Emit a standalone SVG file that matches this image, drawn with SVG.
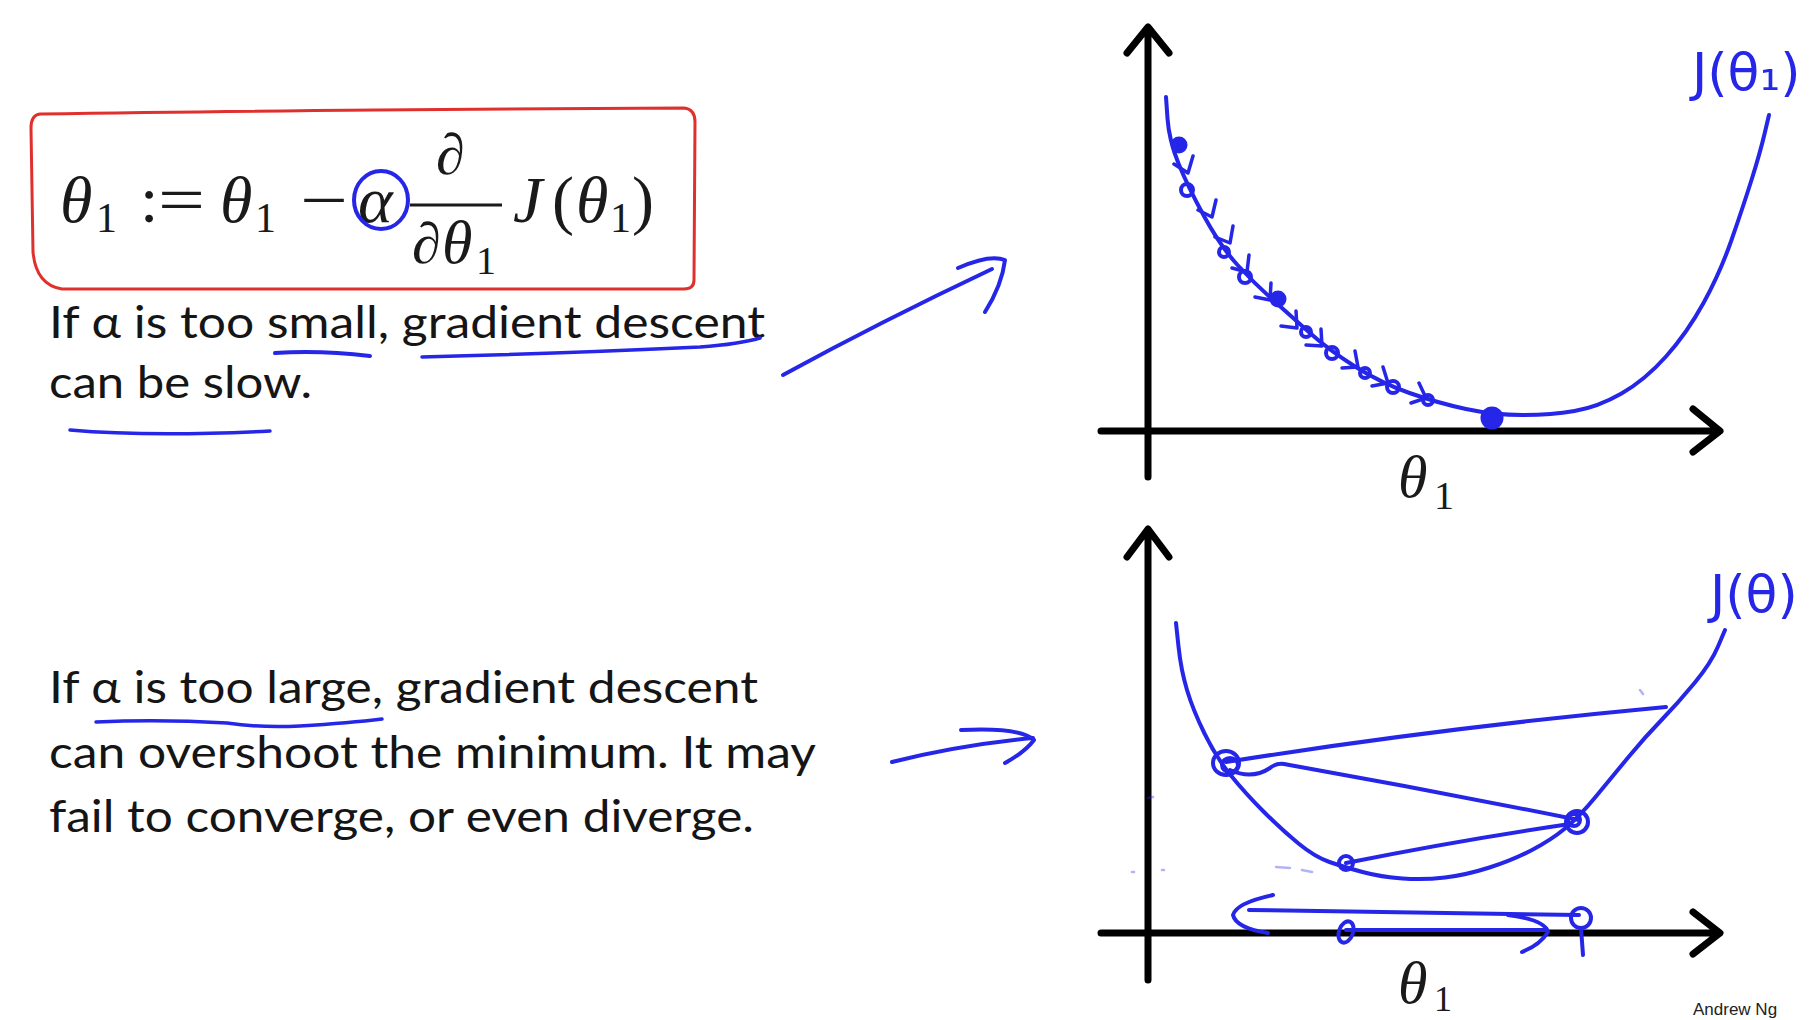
<svg xmlns="http://www.w3.org/2000/svg" width="1818" height="1020" viewBox="0 0 1818 1020">
<style>
.ink{fill:none;stroke:#2626e8;stroke-width:4;stroke-linecap:round;stroke-linejoin:round}
.inkt{fill:none;stroke:#2626e8;stroke-width:3.5;stroke-linecap:round;stroke-linejoin:round}
.faint{fill:none;stroke:#2626e8;stroke-width:2.5;stroke-linecap:round;opacity:0.35}
.axis{fill:none;stroke:#000;stroke-width:7;stroke-linecap:round;stroke-linejoin:round}
.math{font-family:"Liberation Serif","DejaVu Serif",serif;fill:#1a1a1a}
.mi{font-style:italic}
.body{font-family:Lato,"Liberation Sans",sans-serif;font-size:45px;fill:#151515}
.hand{font-family:"DejaVu Sans",sans-serif;fill:#2626e8;font-size:52px}
.dot{fill:#2626e8;stroke:#2626e8;stroke-width:3}
.ring{fill:none;stroke:#2626e8;stroke-width:4}
</style>

<rect x="0" y="0" width="1818" height="1020" fill="#ffffff"/>

<g id="formula-box">
  <path d="M40,114 Q300,110 684,108 Q695,109 695,122 L694,280 Q694,289 684,289 L62,289 Q36,285 33,252 L31,128 Q31,115 40,114 Z" fill="none" stroke="#e0302e" stroke-width="3"/>
  <g class="math">
    <text x="60" y="222" font-size="66" class="mi">θ</text>
    <text x="96" y="232" font-size="42">1</text>
    <text x="140" y="222" font-size="66">:</text>
    <text x="158" y="222" font-size="66" textLength="47" lengthAdjust="spacingAndGlyphs">=</text>
    <text x="220" y="222" font-size="66" class="mi">θ</text>
    <text x="255" y="232" font-size="42">1</text>
    <text x="300" y="222" font-size="66" textLength="48" lengthAdjust="spacingAndGlyphs">−</text>
    <text x="358" y="222" font-size="66" class="mi">α</text>
    <text x="436" y="174" font-size="58">∂</text>
    <line x1="410" y1="205" x2="502" y2="205" stroke="#1a1a1a" stroke-width="3"/>
    <text x="412" y="263" font-size="58">∂</text>
    <text x="442" y="263" font-size="62" class="mi">θ</text>
    <text x="476" y="274" font-size="40">1</text>
    <text x="513" y="222" font-size="66" class="mi">J</text>
    <text x="552" y="222" font-size="66">(</text>
    <text x="576" y="222" font-size="66" class="mi">θ</text>
    <text x="610" y="232" font-size="42">1</text>
    <text x="632" y="222" font-size="66">)</text>
  </g>
  <ellipse cx="381" cy="200" rx="27" ry="29" class="ink"/>
</g>

<g id="text-small">
  <text class="body" x="49" y="338" textLength="716" lengthAdjust="spacingAndGlyphs">If α is too small, gradient descent</text>
  <text class="body" x="49" y="398" textLength="263" lengthAdjust="spacingAndGlyphs">can be slow.</text>
  <path class="ink" d="M275,353 Q320,350 370,356"/>
  <path class="inkt" d="M422,357 Q550,354 700,347 Q740,344 760,338"/>
  <path class="inkt" d="M70,430 Q150,437 270,431"/>
</g>

<g id="text-large">
  <text class="body" x="49" y="703" textLength="709" lengthAdjust="spacingAndGlyphs">If α is too large, gradient descent</text>
  <text class="body" x="49" y="768" textLength="767" lengthAdjust="spacingAndGlyphs">can overshoot the minimum. It may</text>
  <text class="body" x="49" y="832" textLength="705" lengthAdjust="spacingAndGlyphs">fail to converge, or even diverge.</text>
  <path class="inkt" d="M96,722 Q160,719 227,723 Q260,728 300,726 Q350,723 382,719"/>
</g>

<g id="connectors">
  <path class="ink" d="M783,375 Q880,322 992,269"/>
  <path class="ink" d="M958,268 Q990,254 1005,260 Q1002,285 985,312"/>
  <path class="ink" d="M892,762 Q960,745 1033,738"/>
  <path class="ink" d="M961,730 Q1020,727 1034,740 Q1025,752 1005,763"/>
</g>

<g id="graph-small">
  <path class="axis" d="M1148,477 L1148,28 M1127,53 L1148,27 L1169,53"/>
  <path class="axis" d="M1101,431 L1719,431 M1693,409 L1720,431 L1693,452"/>
  <text class="math mi" x="1398" y="497" font-size="60">θ</text>
  <text class="math" x="1434" y="509" font-size="40">1</text>
  <text class="hand" x="1692" y="90">J(θ₁)</text>
  <path class="ink" d="M1166,97 L1167.5,118.5 Q1169,140 1178.5,163.5 Q1188,187 1204.5,217 Q1221,247 1237.5,265 Q1254,283 1273,300 Q1292,317 1310.5,333.5 Q1329,350 1355,366.5 Q1381,383 1409.5,393 Q1438,403 1466,409 Q1494,415 1522.5,415 Q1551,415 1574.5,411 Q1598,407 1621.5,393.5 Q1645,380 1666,356.5 Q1687,333 1703.5,303 Q1720,273 1731.5,240 Q1743,207 1751.5,180 Q1760,153 1764.5,134 L1769,115"/>
  <path class="inkt" d="M1174,164 L1188,173 L1193,156 M1198,210 L1212,217 L1216,200 M1215,237 L1230,243 L1233,226 M1232,268 L1247,272 L1249,255 M1255,297 L1270,300 L1271,283 M1281,326 L1297,328 L1296,311 M1306,345 L1322,346 L1321,329 M1342,368 L1358,367 L1355,351 M1372,386 L1388,383 L1383,367 M1411,403 L1426,398 L1419,383"/>
  <circle class="dot" cx="1179" cy="145" r="7"/>
  <circle class="ring" cx="1187" cy="190" r="6"/>
  <circle class="ring" cx="1224" cy="252" r="5"/>
  <circle class="ring" cx="1245" cy="277" r="6"/>
  <circle class="dot" cx="1278" cy="299" r="7"/>
  <circle class="ring" cx="1306" cy="332" r="5"/>
  <circle class="ring" cx="1332" cy="353" r="6"/>
  <circle class="ring" cx="1365" cy="373" r="5"/>
  <circle class="ring" cx="1393" cy="387" r="6"/>
  <circle class="ring" cx="1428" cy="400" r="5"/>
  <circle class="dot" cx="1492" cy="418" r="10"/>
</g>

<g id="graph-large">
  <path class="axis" d="M1148,980 L1148,530 M1127,557 L1148,529 L1169,557"/>
  <path class="axis" d="M1101,933 L1719,933 M1693,912 L1720,933 L1693,954"/>
  <text class="math mi" x="1398" y="1003" font-size="60">θ</text>
  <text class="math" x="1434" y="1011" font-size="36">1</text>
  <text class="hand" x="1710" y="612">J(θ)</text>
  <path class="ink" d="M1176,623 L1178.5,646.5 Q1181,670 1187,690 Q1193,710 1204.5,733.5 Q1216,757 1230.5,775 Q1245,793 1263.5,811.5 Q1282,830 1298.5,843.5 Q1315,857 1329.5,862 Q1344,867 1362.5,872 Q1381,877 1402.5,878.5 Q1424,880 1445,877.5 Q1466,875 1489.5,867.5 Q1513,860 1532,850 Q1551,840 1565,828.5 Q1579,817 1595.5,797 Q1612,777 1628.5,757 Q1645,737 1661.5,720 Q1678,703 1694.5,683 Q1711,663 1718,646.5 L1725,630"/>
  <path class="ink" d="M1226,762 Q1440,728 1666,707"/>
  <path class="ink" d="M1230,770 Q1252,780 1270,768 Q1276,763 1284,764 Q1430,790 1579,820"/>
  <path class="ink" d="M1346,863 Q1460,840 1570,824"/>
  <ellipse class="ring" cx="1226" cy="763" rx="13" ry="12"/>
  <ellipse class="ring" cx="1230" cy="765" rx="8" ry="7"/>
  <circle class="ring" cx="1577" cy="822" r="11"/>
  <circle class="ring" cx="1574" cy="820" r="6"/>
  <circle class="ring" cx="1346" cy="863" r="7"/>
  <path class="ink" d="M1579,915 Q1420,912 1249,910"/>
  <path class="ink" d="M1273,895 Q1236,903 1233,915 Q1236,928 1268,933"/>
  <path class="ink" d="M1346,930 L1546,930"/>
  <path class="ink" d="M1508,915 Q1545,920 1548,932 Q1540,945 1522,952"/>
  <ellipse class="ring" cx="1346" cy="932" rx="7" ry="11" transform="rotate(20 1346 932)"/>
  <circle class="ring" cx="1581" cy="918" r="10"/>
  <path class="ink" d="M1581,928 L1583,955"/>
  <path class="faint" d="M1640,690 L1643,694 M1148,798 L1153,797 M1276,867 L1290,868 M1302,870 L1312,872 M1132,872 L1134,872 M1162,870 L1164,870"/>
</g>

<text x="1693" y="1015" font-family="Liberation Sans, sans-serif" font-size="17" fill="#222">Andrew Ng</text>
</svg>
